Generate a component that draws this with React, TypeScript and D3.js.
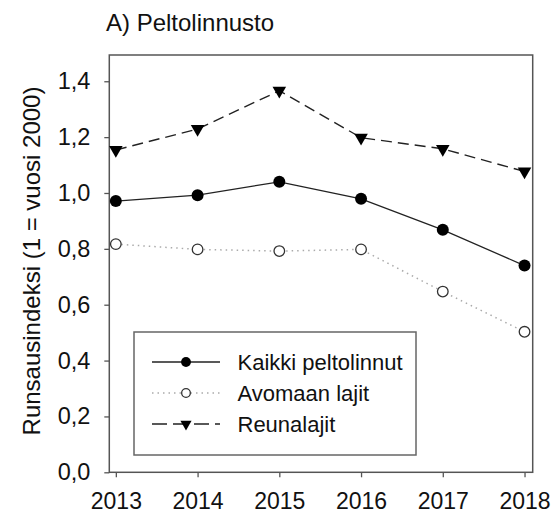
import React, { useRef, useEffect } from "react";
import * as d3 from "d3";

// values
const years = [2013, 2014, 2015, 2016, 2017, 2018];
const kaikki = [0.971, 0.992, 1.04, 0.979, 0.868, 0.74];
const avomaan = [0.817, 0.798, 0.792, 0.798, 0.647, 0.503];
const reuna = [1.154, 1.229, 1.366, 1.198, 1.158, 1.077];
const yTicks = [0, 0.2, 0.4, 0.6, 0.8, 1.0, 1.2, 1.4];
const legendLabels = ["Kaikki peltolinnut", "Avomaan lajit", "Reunalajit"];

const FONT = "'Liberation Sans', Arial, sans-serif";

function App() {
  const svgRef = useRef<SVGSVGElement>(null);
  const width = 555;
  const height = 515;
  const margin = { top: 55, right: 22.3, bottom: 42.7, left: 109.3 };

  useEffect(() => {
    const svg = d3.select(svgRef.current);
    svg.selectAll("*").remove();

    const x = d3
      .scaleLinear()
      .domain([2012.92, 2018.1])
      .range([margin.left, width - margin.right]);
    const y = d3
      .scaleLinear()
      .domain([0, 1.494])
      .range([height - margin.bottom, margin.top]);

    const axisColor = "#555";

    // frame
    svg
      .append("rect")
      .attr("x", margin.left)
      .attr("y", margin.top)
      .attr("width", width - margin.left - margin.right)
      .attr("height", height - margin.top - margin.bottom)
      .attr("fill", "none")
      .attr("stroke", axisColor)
      .attr("stroke-width", 1.5);

    // x axis
    const gx = svg
      .append("g")
      .attr("transform", `translate(0,${height - margin.bottom})`)
      .call(
        d3
          .axisBottom(x)
          .tickValues(years)
          .tickFormat(d3.format("d"))
          .tickSize(5)
          .tickSizeOuter(0)
          .tickPadding(15),
      );
    gx.select(".domain").remove();
    gx.selectAll("line").attr("stroke", axisColor).attr("stroke-width", 1.3);
    gx.selectAll("text")
      .attr("font-family", FONT)
      .attr("font-size", 23)
      .attr("fill", "#111");

    // y axis
    const gy = svg
      .append("g")
      .attr("transform", `translate(${margin.left},0)`)
      .call(
        d3
          .axisLeft(y)
          .tickValues(yTicks)
          .tickFormat((d) => d3.format(".1f")(d as number).replace(".", ","))
          .tickSize(5)
          .tickSizeOuter(0)
          .tickPadding(14),
      );
    gy.select(".domain").remove();
    gy.selectAll("line").attr("stroke", axisColor).attr("stroke-width", 1.3);
    gy.selectAll("text")
      .attr("font-family", FONT)
      .attr("font-size", 23.5)
      .attr("fill", "#111");

    const series = [
      { values: kaikki, stroke: "#222", width: 1.3, dash: "", legendDash: "", marker: "filled" },
      { values: avomaan, stroke: "#aaa", width: 1.5, dash: "1.5,4", legendDash: "1.5,4", marker: "open" },
      { values: reuna, stroke: "#222", width: 1.4, dash: "11,6", legendDash: "15,6", marker: "triangle" },
    ];

    const line = d3
      .line<number>()
      .x((_, i) => x(years[i]))
      .y((d) => y(d));

    const drawMarker = (
      g: any,
      kind: string,
      cx: number,
      cy: number,
      scale: number,
    ) => {
      if (kind === "filled") {
        g.append("circle")
          .attr("cx", cx)
          .attr("cy", cy)
          .attr("r", 6 * scale)
          .attr("fill", "#000");
      } else if (kind === "open") {
        g.append("circle")
          .attr("cx", cx)
          .attr("cy", cy)
          .attr("r", 5.3 * scale)
          .attr("fill", "#fff")
          .attr("stroke", "#333")
          .attr("stroke-width", 1.3);
      } else {
        g.append("path")
          .attr("d", d3.symbol().type(d3.symbolTriangle).size(80 * scale * scale)())
          .attr("transform", `translate(${cx},${cy}) rotate(180)`)
          .attr("fill", "#000");
      }
    };

    series.forEach((s) => {
      svg
        .append("path")
        .datum(s.values)
        .attr("fill", "none")
        .attr("stroke", s.stroke)
        .attr("stroke-width", s.width)
        .attr("stroke-dasharray", s.dash)
        .attr("d", line);
      const g = svg.append("g");
      s.values.forEach((v, i) => drawMarker(g, s.marker, x(years[i]), y(v), 1));
    });

    // legend
    const lg = svg.append("g");
    lg.append("rect")
      .attr("x", 134)
      .attr("y", 332)
      .attr("width", 282)
      .attr("height", 123)
      .attr("fill", "#fff")
      .attr("stroke", "#666")
      .attr("stroke-width", 1.5);
    const rowY = [362, 393, 424];
    series.forEach((s, i) => {
      lg.append("line")
        .attr("x1", 152)
        .attr("x2", 220)
        .attr("y1", rowY[i])
        .attr("y2", rowY[i])
        .attr("stroke", s.stroke)
        .attr("stroke-width", s.width)
        .attr("stroke-dasharray", s.legendDash);
      drawMarker(lg, s.marker, 186, rowY[i], 0.82);
      lg.append("text")
        .attr("x", 237.5)
        .attr("y", rowY[i])
        .attr("dy", "0.36em")
        .attr("font-family", FONT)
        .attr("font-size", 22)
        .attr("fill", "#111")
        .text(legendLabels[i]);
    });

    // title
    svg
      .append("text")
      .attr("x", 106)
      .attr("y", 31)
      .attr("font-family", FONT)
      .attr("font-size", 24)
      .attr("fill", "#111")
      .text("A) Peltolinnusto");

    // y label
    svg
      .append("text")
      .attr("transform", `translate(40,261) rotate(-90)`)
      .attr("text-anchor", "middle")
      .attr("font-family", FONT)
      .attr("font-size", 24)
      .attr("fill", "#111")
      .text("Runsausindeksi (1 = vuosi 2000)");
  }, []);

  return (
    <div>
      <svg
        ref={svgRef}
        width={width}
        height={height}
        style={{ position: "absolute", left: 0, top: 0, background: "#fff" }}
      />
    </div>
  );
}

export default App;
